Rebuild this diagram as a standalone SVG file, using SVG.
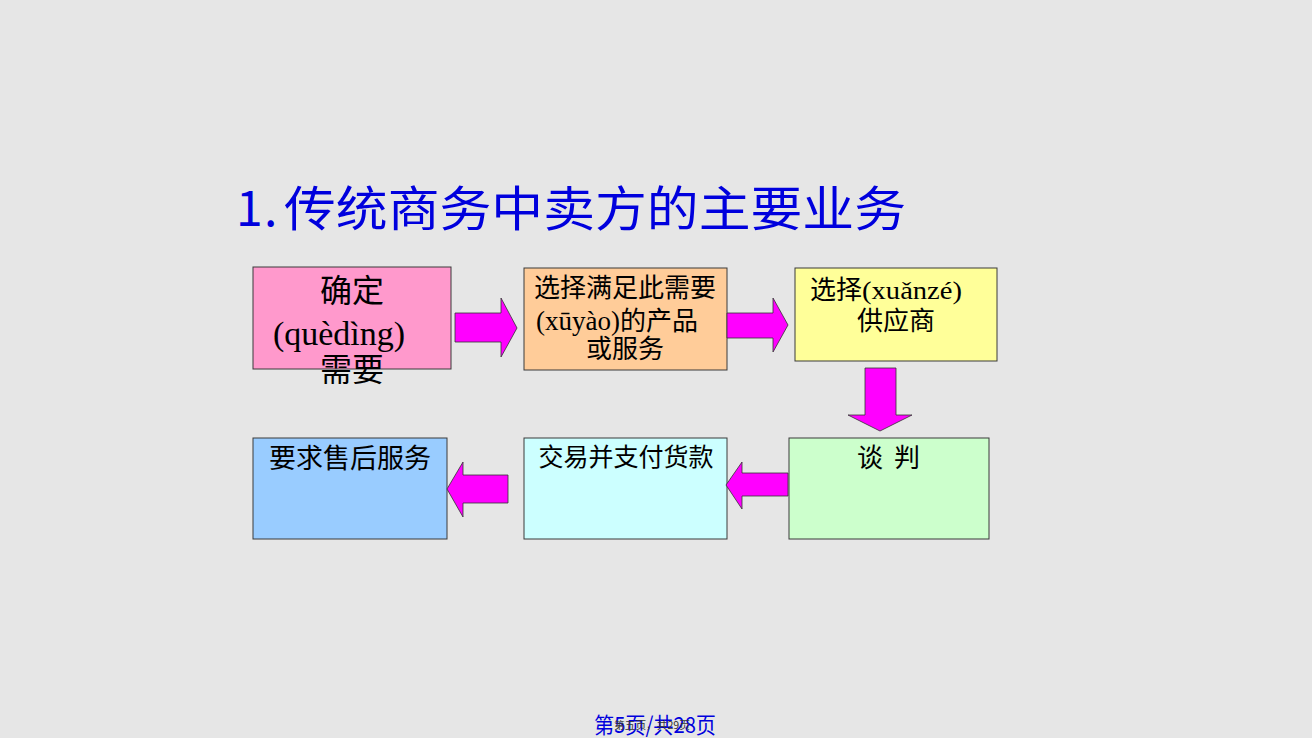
<svg xmlns="http://www.w3.org/2000/svg" width="1312" height="738" viewBox="0 0 1312 738">
<style>
.box{stroke:#3a3a3a;stroke-width:1}
.arr{fill:#FF00FF;stroke:#333333;stroke-width:0.8;stroke-linejoin:miter}
.cjk{font-family:"Noto Sans CJK SC","Noto Sans",sans-serif;fill:#000}
.py{font-family:"Liberation Serif","Noto Sans CJK SC",serif;fill:#000}
</style>
<rect width="1312" height="738" fill="#E6E6E6"/>
<text y="226" font-family="'Noto Sans CJK SC','Noto Sans',sans-serif" font-size="48" fill="#0000DD"><tspan x="236">1</tspan><tspan x="264">.</tspan><tspan x="284" textLength="622" lengthAdjust="spacingAndGlyphs">传统商务中卖方的主要业务</tspan></text>

<g id="node1">
<rect class="box" x="253" y="267" width="198" height="102" fill="#FF99CC"/>
<text class="cjk" x="352" y="302" font-size="32" text-anchor="middle">确定</text>
<text class="py" x="339" y="345" font-size="34" text-anchor="middle">(quèdìng)</text>
<text class="cjk" x="352" y="381" font-size="32" text-anchor="middle">需要</text>
</g>
<g id="node2">
<rect class="box" x="524" y="268" width="203" height="102" fill="#FFCC99"/>
<text class="cjk" x="625" y="297" font-size="26" text-anchor="middle">选择满足此需要</text>
<text x="536" y="330"><tspan class="py" font-size="27">(xūyào)</tspan><tspan class="cjk" font-size="26">的产品</tspan></text>
<text class="cjk" x="625" y="358" font-size="26" text-anchor="middle">或服务</text>
</g>
<g id="node3">
<rect class="box" x="795" y="268" width="202" height="93" fill="#FFFF99"/>
<text x="810" y="299"><tspan class="cjk" font-size="26">选择</tspan><tspan class="py" font-size="26" textLength="100" lengthAdjust="spacingAndGlyphs">(xuǎnzé)</tspan></text>
<text class="cjk" x="896" y="330" font-size="26" text-anchor="middle">供应商</text>
</g>
<g id="node4">
<rect class="box" x="789" y="438" width="200" height="101" fill="#CCFFCC"/>
<text class="cjk" y="467" font-size="26"><tspan x="857">谈</tspan><tspan x="894">判</tspan></text>
</g>
<g id="node5">
<rect class="box" x="524" y="438" width="203" height="101" fill="#CCFFFF"/>
<text class="cjk" x="626" y="466" font-size="25" text-anchor="middle">交易并支付货款</text>
</g>
<g id="node6">
<rect class="box" x="253" y="438" width="194" height="101" fill="#99CCFF"/>
<text class="cjk" x="350" y="468" font-size="27" text-anchor="middle">要求售后服务</text>
</g>

<g id="connectors">
<polygon class="arr" points="455,313 501,313 501,298 517,328 501,357 501,342 455,342"/>
<polygon class="arr" points="727,313 773,313 773,298 788,325 773,352 773,338 727,338"/>
<polygon class="arr" points="865,368 896,368 896,415 912,415 880,431 848,415 865,415"/>
<polygon class="arr" points="788,473 742,473 742,462 726,485 742,509 742,496 788,496"/>
<polygon class="arr" points="508,475 463,475 463,462 447,489 463,517 463,503 508,503"/>
</g>

<text x="594" y="733" font-family="'Noto Sans CJK SC','Noto Sans',sans-serif" font-size="22" fill="#0000DD" textLength="122" lengthAdjust="spacingAndGlyphs">第5页/共28页</text>
<text x="614" y="729" font-family="'Noto Sans CJK SC','Noto Sans',sans-serif" font-size="10" fill="#333333" textLength="76" lengthAdjust="spacingAndGlyphs">第五页，共29页</text>
</svg>
